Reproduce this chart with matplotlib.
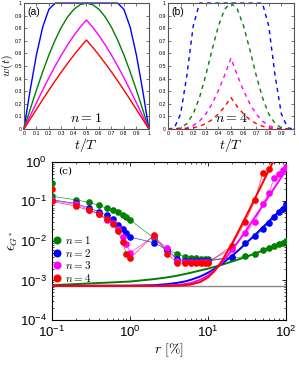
import numpy as np
import matplotlib

matplotlib.use("Agg")
import matplotlib.pyplot as plt

plt.rcParams["mathtext.fontset"] = "cm"
plt.rcParams["font.family"] = ["Liberation Sans", "DejaVu Sans"]

GREEN = "#008000"
BLUE = "#0000ff"
MAGENTA = "#ff00ff"
RED = "#ff0000"
COLORS = [GREEN, BLUE, MAGENTA, RED]

# panels (a)/(b): w(t) on t/T = 0 .. 0.5, the right half mirrors it
t_half = [0, 0.05, 0.1, 0.15, 0.2, 0.25, 0.3, 0.35, 0.4, 0.45, 0.5]
w1_blue = [0, 0.309, 0.588, 0.809, 0.951, 1.0, 1.0, 1.0, 1.0, 1.0, 1.0]
w1_green = [0, 0.156, 0.309, 0.454, 0.588, 0.707, 0.809, 0.891, 0.951, 0.988, 1.0]
w1_magenta = [0, 0.105, 0.208, 0.309, 0.407, 0.5, 0.588, 0.669, 0.743, 0.809, 0.866]
w1_red = [0, 0.078, 0.156, 0.233, 0.309, 0.383, 0.454, 0.522, 0.588, 0.649, 0.707]
w4_blue = [0, 0.009, 0.12, 0.428, 0.818, 1.0, 1.0, 1.0, 1.0, 1.0, 1.0]
w4_green = [0, 0.0006, 0.009, 0.043, 0.12, 0.25, 0.428, 0.63, 0.818, 0.953, 1.0]
w4_magenta = [0, 0.0001, 0.002, 0.009, 0.027, 0.063, 0.12, 0.2, 0.305, 0.428, 0.563]
w4_red = [0, 0.0, 0.0006, 0.003, 0.009, 0.022, 0.043, 0.074, 0.12, 0.177, 0.25]

# panel (c): measured error vs r [%]
r_data = [0.1, 0.2, 0.3, 0.4, 0.5, 0.6, 0.7, 0.8, 0.9, 1,
          2, 3, 4, 5, 6, 7, 8, 9, 10,
          20, 30, 40, 50, 60, 70, 80, 90, 100]
eps_n1 = [0.134, 0.11, 0.094, 0.079, 0.067, 0.059, 0.053, 0.046, 0.041, 0.034,
          0.012, 0.006, 0.0047, 0.004, 0.0037, 0.0036, 0.0035, 0.0035, 0.0034,
          0.0036, 0.0041, 0.0048, 0.0058, 0.0067, 0.0074, 0.0082, 0.0091, 0.01]
eps_n2 = [0.11, 0.089, 0.068, 0.055, 0.045, 0.035, 0.026, 0.02, 0.016, 0.0125,
          0.0091, 0.006, 0.0035, 0.0032, 0.0032, 0.0032, 0.0032, 0.0032, 0.0031,
          0.0039, 0.009, 0.013, 0.02, 0.029, 0.04, 0.053, 0.065, 0.085]
eps_n3 = [0.106, 0.084, 0.062, 0.049, 0.033, 0.028, 0.02, 0.0127, 0.0086, 0.005,
          0.013, 0.0065, 0.0032, 0.003, 0.003, 0.003, 0.003, 0.003, 0.003,
          0.0062, 0.016, 0.031, 0.087, 0.16, 0.38, 0.49, 0.62, 0.73]
eps_n4 = [0.1, 0.076, 0.059, 0.048, 0.036, 0.027, 0.018, 0.0093, 0.0046, 0.0036,
          0.014, 0.0048, 0.0028, 0.0027, 0.0028, 0.0028, 0.0028, 0.0028, 0.0028,
          0.0074, 0.031, 0.107, 0.51, 0.65, 1.3, 2.0, 3.0, 4.0]
r_extra = [0.1, 0.1]
eps_extra = [0.3, 0.2]

# panel (c): model curves
r_model = [0.1, 1, 2, 3, 4, 5, 6, 8, 10, 12, 15, 20, 25, 30, 40, 50, 60, 70, 80, 100]
model_n1 = [7.6e-4, 9.4e-4, 1.08e-3, 1.2e-3, 1.32e-3, 1.45e-3, 1.57e-3, 1.8e-3, 2.0e-3, 2.2e-3,
            2.5e-3, 3.0e-3, 3.45e-3, 3.9e-3, 4.8e-3, 5.7e-3, 6.6e-3, 7.5e-3, 8.3e-3, 9.9e-3]
model_n2 = [7.3e-4, 7.4e-4, 7.6e-4, 8.1e-4, 8.7e-4, 9.4e-4, 1.04e-3, 1.27e-3, 1.58e-3, 1.95e-3,
            2.64e-3, 4.13e-3, 6.0e-3, 8.4e-3, 1.43e-2, 2.2e-2, 3.13e-2, 4.2e-2, 5.5e-2, 8.57e-2]
model_n3 = [7.3e-4, 7.3e-4, 7.35e-4, 7.5e-4, 7.7e-4, 8.1e-4, 8.6e-4, 1.05e-3, 1.35e-3, 1.8e-3,
            2.82e-3, 5.7e-3, 1.04e-2, 1.75e-2, 4.04e-2, 7.8e-2, 0.135, 0.213, 0.318, 0.62]
model_n4 = [7.3e-4, 7.3e-4, 7.3e-4, 7.3e-4, 7.4e-4, 7.6e-4, 7.9e-4, 9.2e-4, 1.2e-3, 1.7e-3,
            3.11e-3, 8.2e-3, 1.91e-2, 3.88e-2, 0.121, 0.294, 0.61, 1.13, 1.93, 4.7]
eps_floor = 7.3e-4
n_labels = [r"$n=1$", r"$n=2$", r"$n=3$", r"$n=4$"]


def mirror(half):
    half = np.asarray(half, dtype=float)
    return np.concatenate([half, half[-2::-1]])


t_full = np.concatenate([np.asarray(t_half), 1 - np.asarray(t_half)[-2::-1]])

fig = plt.figure(figsize=(2.99, 3.67), dpi=100)
ax_a = fig.add_axes([0.080, 0.6485, 0.418, 0.343])
ax_b = fig.add_axes([0.562, 0.6485, 0.421, 0.343])
ax_c = fig.add_axes([0.174, 0.128, 0.783, 0.431])


def style_top(ax, label, ntext):
    ax.set_xlim(0, 1)
    ax.set_ylim(0, 1)
    ax.set_xticks(np.arange(0, 1.01, 0.1))
    ax.set_yticks(np.arange(0, 1.01, 0.1))
    ax.set_xticklabels(["0"] + [f"{v:.1f}" for v in np.arange(0.1, 0.95, 0.1)] + ["1"])
    ax.set_yticklabels(["0"] + [f"{v:.1f}" for v in np.arange(0.1, 0.95, 0.1)] + ["1"])
    ax.tick_params(direction="in", length=2, width=0.5, labelsize=3.8, pad=1.5,
                   top=True, right=True, colors="#444444", labelcolor="black")
    for s in ax.spines.values():
        s.set_linewidth(0.8)
        s.set_color("#555555")
    ax.set_xlabel(r"$t/T$", fontsize=10, labelpad=0)
    ax.text(0.03, 0.97, label, transform=ax.transAxes, ha="left", va="top", fontsize=7.5)
    ax.text(0.5, 0.09, ntext, transform=ax.transAxes, ha="center", va="center", fontsize=10)


for w, c in zip([w1_blue, w1_green, w1_magenta, w1_red], [BLUE, GREEN, MAGENTA, RED]):
    ax_a.plot(t_full, mirror(w), color=c, lw=1.0, clip_on=False)
style_top(ax_a, "(a)", r"$n=1$")
ax_a.set_ylabel(r"$w(t)$", fontsize=8.5)
ax_a.yaxis.set_label_coords(-0.07, 0.5)

for w, c in zip([w4_blue, w4_green, w4_magenta, w4_red], [BLUE, GREEN, MAGENTA, RED]):
    ax_b.plot(t_full, mirror(w), color=c, lw=1.0, ls=(0, (3, 3)), clip_on=False)
style_top(ax_b, "(b)", r"$n=4$")

# panel (c)
ax_c.axhline(eps_floor, color="#888888", lw=1.0, zorder=1)
for eps, c, lab in zip([eps_n1, eps_n2, eps_n3, eps_n4], COLORS, n_labels):
    ax_c.plot(r_data, eps, color=c, lw=0.5, alpha=0.8, zorder=2)
    ax_c.plot(r_data, eps, "o", color=c, ms=4.8, mec="none", zorder=3, label=lab)
ax_c.plot(r_extra[:1], eps_extra[:1], "o", color=GREEN, ms=4.8, mec="none", zorder=3)
ax_c.plot(r_extra[1:], eps_extra[1:], "o", color=RED, ms=4.8, mec="none", zorder=3)
for m, c in zip([model_n1, model_n2, model_n3, model_n4], COLORS):
    ax_c.plot(r_model, m, color=c, lw=1.4, zorder=4)

ax_c.set_xscale("log")
ax_c.set_yscale("log")
ax_c.set_xlim(0.1, 100)
ax_c.set_ylim(1e-4, 1)
ax_c.tick_params(which="both", direction="in", top=True, right=True, labelsize=9.5)
ax_c.tick_params(which="major", length=3, width=0.6)
ax_c.tick_params(which="minor", length=1.5, width=0.5)
for s in ax_c.spines.values():
    s.set_linewidth(0.8)
ax_c.set_xlabel(r"$r\ [\%]$", fontsize=10, labelpad=1)
ax_c.set_ylabel(r"$\epsilon_{G^*}$", fontsize=10, labelpad=0)
ax_c.text(0.025, 0.97, "(c)", transform=ax_c.transAxes, ha="left", va="top",
          fontsize=7.5, family="DejaVu Serif")
ax_c.legend(loc="upper left", bbox_to_anchor=(-0.02, 0.585), frameon=False,
            handlelength=0.6, handletextpad=0.4, labelspacing=0.05, fontsize=8,
            markerscale=1.2, borderaxespad=0.2)

fig.savefig("out.png", dpi=100)
